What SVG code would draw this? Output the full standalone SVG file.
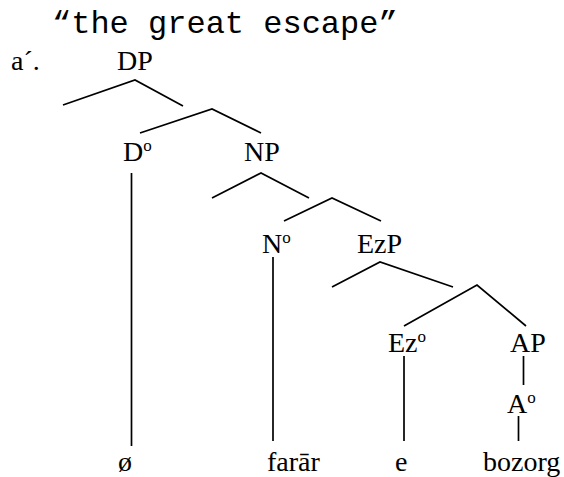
<svg xmlns="http://www.w3.org/2000/svg" width="564" height="477" viewBox="0 0 564 477">
<style>
.t{font-family:"Liberation Serif","Times New Roman",serif;font-size:28px;fill:#000}
.m{font-family:"Liberation Mono","Courier New",monospace;font-size:32px;fill:#000}
.sup{font-size:17px}
.c line,.c polyline{stroke:#000;stroke-width:1.7;fill:none}
</style>
<rect width="564" height="477" fill="#fff"/>
<text class="m" x="52" y="33">“the great escape”</text>
<text class="t" x="11" y="70">a´.</text>
<g id="DP"><text class="t" x="117" y="70">DP</text></g>
<g id="D0"><text class="t" x="123" y="161">D<tspan class="sup" dy="-10">o</tspan></text></g>
<g id="NP"><text class="t" x="244" y="161">NP</text></g>
<g id="N0"><text class="t" x="262" y="253">N<tspan class="sup" dy="-10">o</tspan></text></g>
<g id="EzP"><text class="t" x="357" y="253">EzP</text></g>
<g id="Ez0"><text class="t" x="388" y="352">Ez<tspan class="sup" dy="-10">o</tspan></text></g>
<g id="AP"><text class="t" x="510" y="352">AP</text></g>
<g id="A0"><text class="t" x="507" y="413">A<tspan class="sup" dy="-10">o</tspan></text></g>
<g id="null"><text class="t" x="118" y="471">ø</text></g>
<g id="farar"><text class="t" x="267" y="471">farār</text></g>
<g id="e"><text class="t" x="395" y="471">e</text></g>
<g id="bozorg"><text class="t" x="483" y="471">bozorg</text></g>
<g id="connectors" class="c">
<polyline points="63,105 135,80 183,106"/>
<polyline points="140,133 212,109 261,133"/>
<polyline points="212,198 261,173 309,198"/>
<polyline points="284,221 332,198 381,221"/>
<polyline points="332,287 380,262 453,287"/>
<polyline points="404,326 477,285 526,326"/>
<line x1="131.5" y1="173" x2="131.5" y2="446"/>
<line x1="273" y1="257" x2="273" y2="441"/>
<line x1="404" y1="356" x2="404" y2="441"/>
<line x1="523.5" y1="356" x2="523.5" y2="385"/>
<line x1="518.5" y1="416" x2="518.5" y2="441"/>
</g>
</svg>
